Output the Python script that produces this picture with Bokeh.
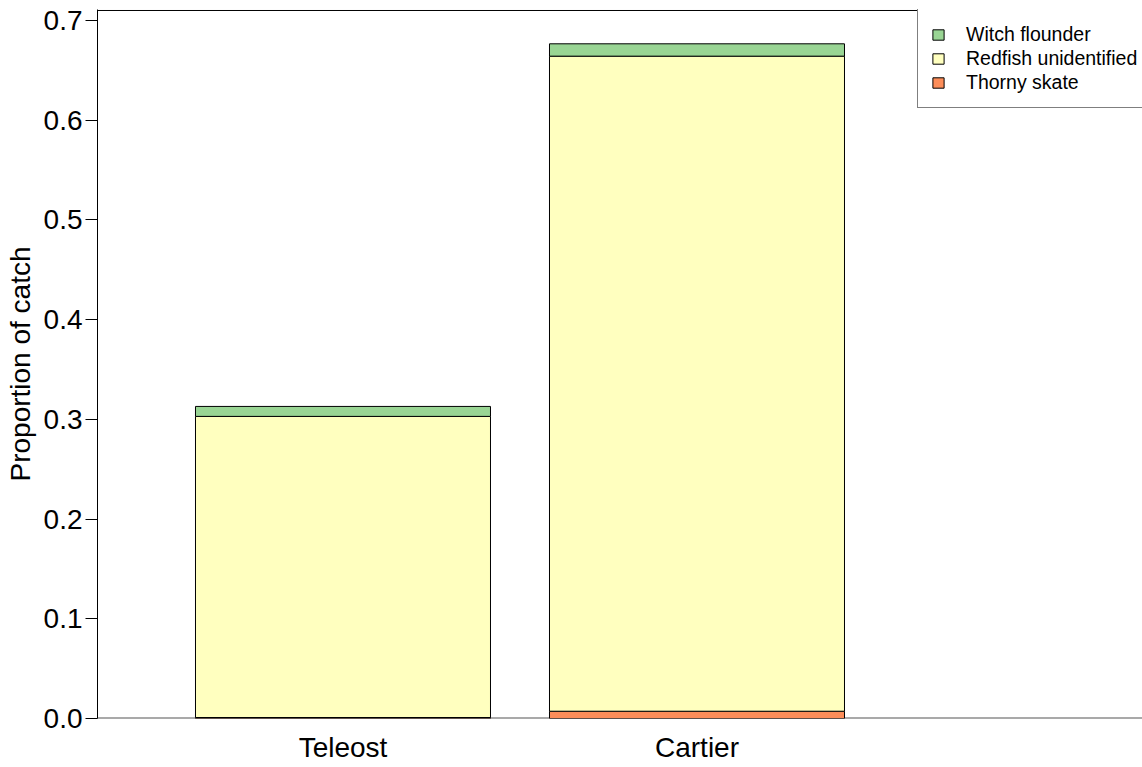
from bokeh.plotting import figure
from bokeh.models import ColumnDataSource, Range1d, FixedTicker, Span, Legend, LegendItem, NumeralTickFormatter
from bokeh.embed import file_html
from bokeh.resources import INLINE

# ---- data ----
vessels = ["Teleost", "Cartier"]
bar_pos = [0.7, 1.9]
thorny_skate = [0.001, 0.0073]
redfish_unidentified = [0.302, 0.657]
witch_flounder = [0.010, 0.0124]
species = ["thorny", "redfish", "witch"]
species_labels = ["Thorny skate", "Redfish unidentified", "Witch flounder"]
colors = ["#FC8D59", "#FFFFBF", "#99D594"]
y_ticks = [0.0, 0.1, 0.2, 0.3, 0.4, 0.5, 0.6, 0.7]

source = ColumnDataSource(dict(x=bar_pos, thorny=thorny_skate,
                               redfish=redfish_unidentified, witch=witch_flounder))

FONT = "Liberation Sans"

p = figure(width=1142, height=767, output_backend="svg", toolbar_location=None,
           x_range=Range1d(-0.1322, 3.4102), y_range=Range1d(0, 0.7111),
           min_border_left=97, min_border_right=0, min_border_top=9, min_border_bottom=49)
p.outline_line_color = None
p.grid.visible = False
p.background_fill_color = "white"
p.border_fill_color = "white"

base = Span(location=0, dimension="width", line_color="#555555", line_width=2, level="underlay")
p.add_layout(base)
top = Span(location=0.7101, dimension="width", line_color="black", line_width=1)
p.add_layout(top)

rs = p.vbar_stack(species, x="x", width=1.0, color=colors, source=source,
                  line_color="black", line_width=1)

ya = p.yaxis[0]
ya.ticker = FixedTicker(ticks=y_ticks)
ya.formatter = NumeralTickFormatter(format="0.0")
ya.axis_label = "Proportion of catch"
ya.axis_label_text_font = FONT
ya.axis_label_text_font_size = "28px"
ya.axis_label_text_font_style = "normal"
ya.axis_label_text_color = "black"
ya.axis_label_standoff = 5
ya.major_label_text_font = FONT
ya.major_label_text_font_size = "28px"
ya.major_label_text_color = "black"
ya.major_label_standoff = 3
ya.major_tick_out = 12
ya.major_tick_in = 0
ya.minor_tick_out = 0
ya.minor_tick_in = 0
ya.axis_line_color = "black"
ya.major_tick_line_color = "black"

xa = p.xaxis[0]
xa.ticker = FixedTicker(ticks=bar_pos)
xa.major_label_overrides = {bar_pos[i]: vessels[i] for i in range(len(vessels))}
xa.major_label_text_font = FONT
xa.major_label_text_font_size = "28px"
xa.major_label_text_color = "black"
xa.major_label_standoff = 13
xa.axis_line_color = None
xa.major_tick_line_color = None
xa.minor_tick_line_color = None
xa.major_tick_out = 0
xa.major_tick_in = 0

items = [LegendItem(label=species_labels[i], renderers=[rs[i]]) for i in [2, 1, 0]]
legend = Legend(items=items, location=(820, 610))
legend.label_text_font = FONT
legend.label_text_font_size = "19.5px"
legend.label_text_color = "black"
legend.glyph_width = 14
legend.glyph_height = 13
legend.label_standoff = 21
legend.label_height = 24
legend.label_width = 200
legend.spacing = 0
legend.padding = 13
legend.margin = 0
legend.border_line_color = "black"
legend.border_line_width = 1
legend.background_fill_color = "white"
legend.background_fill_alpha = 1.0
p.add_layout(legend)

open("out.html", "w").write(file_html(p, INLINE))
